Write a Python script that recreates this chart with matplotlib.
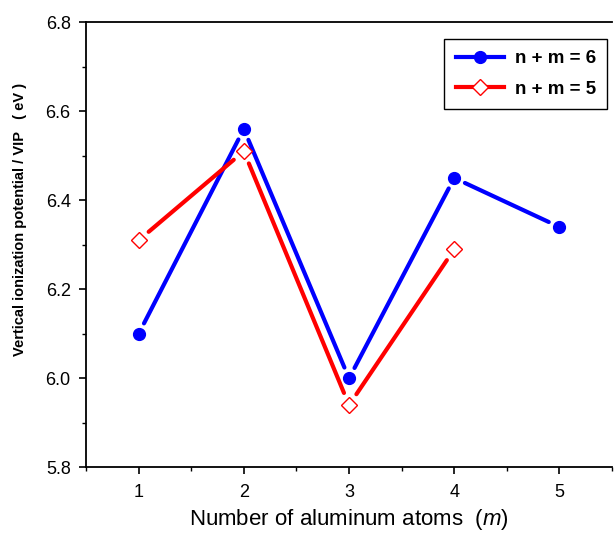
import matplotlib
matplotlib.use('Agg')
from matplotlib import pyplot as plt
from matplotlib.lines import Line2D
from matplotlib.ticker import MultipleLocator

plt.rcParams['font.family'] = ['Liberation Sans', 'DejaVu Sans']
plt.rcParams['mathtext.fontset'] = 'custom'
plt.rcParams['mathtext.rm'] = 'Liberation Sans'
plt.rcParams['mathtext.it'] = 'Liberation Sans:italic'

m_atoms = [1, 2, 3, 4, 5]
vip_n6 = [6.10, 6.56, 6.00, 6.45, 6.34]
m_atoms_n5 = [1, 2, 3, 4]
vip_n5 = [6.31, 6.51, 5.94, 6.29]

fig = plt.figure(figsize=(6.16, 5.36), dpi=100)
ax = fig.add_axes([0.1396, 0.1278, 0.854, 0.831])


def gapped_line(xs, ys, color, gap):
    # Origin-style: segments stop short of the markers
    for i in range(len(xs) - 1):
        ax.annotate('', xy=(xs[i + 1], ys[i + 1]), xytext=(xs[i], ys[i]),
                    arrowprops=dict(arrowstyle='-', color=color, lw=3,
                                    shrinkA=gap, shrinkB=gap),
                    zorder=2)


gapped_line(m_atoms, vip_n6, 'blue', 8.5)
ax.plot(m_atoms, vip_n6, linestyle='none', marker='o', ms=8.5,
        color='blue', zorder=4)

gapped_line(m_atoms_n5, vip_n5, 'red', 9.5)
ax.plot(m_atoms_n5, vip_n5, linestyle='none', marker='D', ms=8,
        mfc='white', mec='red', mew=1.0, zorder=4)

ax.set_xlim(0.5, 5.5)
ax.set_ylim(5.8, 6.8)
ax.xaxis.set_major_locator(MultipleLocator(1))
ax.xaxis.set_minor_locator(MultipleLocator(0.5))
ax.yaxis.set_major_locator(MultipleLocator(0.2))
ax.yaxis.set_minor_locator(MultipleLocator(0.1))
ax.yaxis.set_major_formatter(matplotlib.ticker.FormatStrFormatter('%.1f'))

ax.tick_params(which='major', direction='out', length=5, width=1.2,
               labelsize=13, pad=7)
ax.tick_params(axis='y', which='major', pad=6)
ax.tick_params(which='minor', direction='out', length=3, width=1.0)
for side in ['left', 'bottom', 'top']:
    ax.spines[side].set_linewidth(1.3)
ax.spines['right'].set_visible(False)

ax.set_xlabel('Number of aluminum atoms  ($\\mathit{m}$)', fontsize=16,
              labelpad=4)
ax.set_ylabel('Vertical ionization potential / VIP   ( eV )', fontsize=10.5,
              fontweight='bold')
ax.yaxis.set_label_coords(-0.113, 0.556)

handles = [
    Line2D([], [], color='blue', lw=3, marker='o', ms=8.5),
    Line2D([], [], color='red', lw=3, marker='D', ms=8, mfc='white',
           mec='red', mew=1.0),
]
leg = ax.legend(handles, ['n + m = 6', 'n + m = 5'], loc='upper right',
                bbox_to_anchor=(0.9905, 0.962), borderaxespad=0,
                fancybox=False, edgecolor='black', framealpha=1,
                handlelength=2.6, handletextpad=0.55, borderpad=0.6,
                labelspacing=0.7, prop={'weight': 'bold', 'size': 13.5})
leg.get_frame().set_linewidth(1.0)

plt.savefig('out.png', dpi=100)
